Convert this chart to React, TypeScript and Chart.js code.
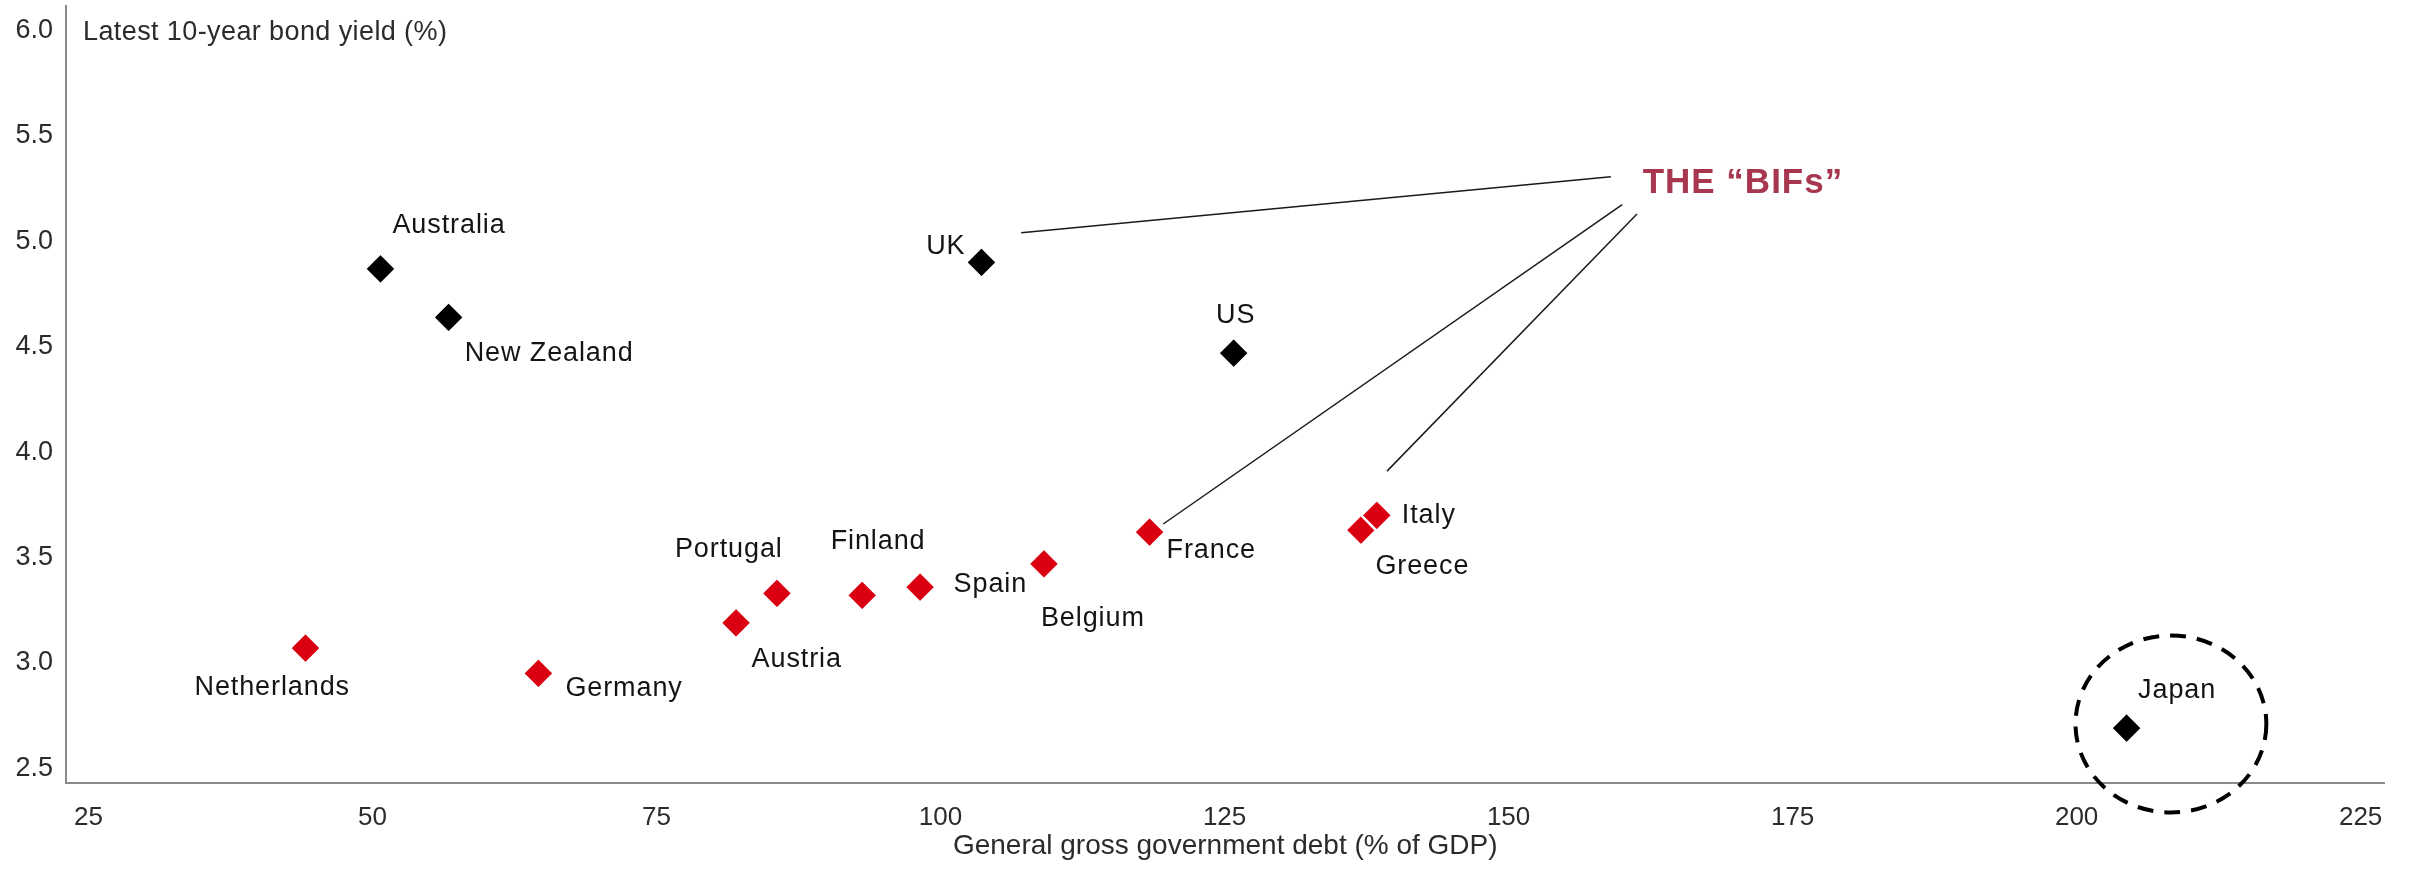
import React, { useEffect, useRef } from 'react';
import { Chart, registerables } from 'chart.js';

Chart.register(...registerables);

// ---- data ----
const euroCountries = ['Netherlands', 'Germany', 'Austria', 'Portugal', 'Finland', 'Spain', 'Belgium', 'France', 'Greece', 'Italy'];
const euroDebt = [44.1, 64.6, 82.0, 85.6, 93.1, 98.2, 109.1, 118.4, 137.0, 138.4];
const euroYield = [3.07, 2.95, 3.19, 3.33, 3.32, 3.36, 3.47, 3.62, 3.63, 3.70];

const otherCountries = ['Australia', 'New Zealand', 'UK', 'US', 'Japan'];
const otherDebt = [50.7, 56.7, 103.6, 125.8, 204.4];
const otherYield = [4.87, 4.64, 4.90, 4.47, 2.69];

const xTicks = [25, 50, 75, 100, 125, 150, 175, 200, 225];
const yTicks = [2.5, 3.0, 3.5, 4.0, 4.5, 5.0, 5.5, 6.0];

const xTitle = 'General gross government debt (% of GDP)';
const yTitle = 'Latest 10-year bond yield (%)';
const calloutText = 'THE \u201CBIFs\u201D';

// callout anchor and leader lines, in [debt, yield] units
const calloutAnchor = [161.8, 5.228];
const calloutLines = [
  [[107.1, 5.041], [159.0, 5.307]],
  [[160.0, 5.174], [119.6, 3.659]],
  [[161.3, 5.13], [139.3, 3.91]],
];

// dashed ring around Japan: centre and half-extent in [debt, yield] units
const ringCenter = [208.3, 2.71];
const ringHalf = [8.4, 0.42];

// ---- styling ----
const FONT = '"Liberation Sans", Arial, sans-serif';
const RED = '#DB0011';
const BLACK = '#000000';
const CALLOUT = '#A6374F';
const AXIS = '#8a8a8a';
const TEXT = '#2b2b2b';
const LABEL = '#141414';

// label offsets from the marker centre: [dx, dy to baseline, alignment]
const labelPlacement: Record<string, [number, number, CanvasTextAlign]> = {
  Australia: [12, -36, 'left'],
  'New Zealand': [16, 44, 'left'],
  UK: [-16, -8, 'right'],
  US: [2, -30, 'center'],
  Japan: [11.5, -30, 'left'],
  Netherlands: [-111, 47, 'left'],
  Germany: [27, 23, 'left'],
  Austria: [15.5, 44, 'left'],
  Portugal: [-102, -36, 'left'],
  Finland: [-31.5, -46.5, 'left'],
  Spain: [33.5, 4.5, 'left'],
  Belgium: [-3, 62, 'left'],
  France: [17, 26, 'left'],
  Greece: [14.5, 44, 'left'],
  Italy: [25, 8, 'left'],
};

const datasetNames = [euroCountries, otherCountries];

const annotationPlugin = {
  id: 'bondAnnotations',
  afterDraw(chart: any) {
    const { ctx, chartArea } = chart;
    const x = chart.scales.x;
    const y = chart.scales.y;
    ctx.save();

    // y-axis caption inside the plot, level with the top tick
    ctx.font = `27px ${FONT}`;
    ctx.fillStyle = TEXT;
    ctx.textAlign = 'left';
    ctx.textBaseline = 'alphabetic';
    (ctx as any).letterSpacing = '0.4px';
    ctx.fillText(yTitle, chartArea.left + 17, y.getPixelForValue(yTicks[yTicks.length - 1]) + 9);

    // country labels next to each marker
    ctx.font = `27px ${FONT}`;
    ctx.fillStyle = LABEL;
    (ctx as any).letterSpacing = '0.9px';
    datasetNames.forEach((names, di) => {
      const meta = chart.getDatasetMeta(di);
      meta.data.forEach((pt: any, i: number) => {
        const name = names[i];
        const place = labelPlacement[name];
        if (!place) return;
        ctx.textAlign = place[2];
        ctx.fillText(name, pt.x + place[0], pt.y + place[1]);
      });
    });

    // leader lines for the callout
    ctx.strokeStyle = '#1a1a1a';
    ctx.lineWidth = 1.5;
    calloutLines.forEach(([a, b]) => {
      ctx.beginPath();
      ctx.moveTo(x.getPixelForValue(a[0]), y.getPixelForValue(a[1]));
      ctx.lineTo(x.getPixelForValue(b[0]), y.getPixelForValue(b[1]));
      ctx.stroke();
    });

    // callout heading
    ctx.font = `bold 35px ${FONT}`;
    ctx.fillStyle = CALLOUT;
    ctx.textAlign = 'left';
    (ctx as any).letterSpacing = '1px';
    ctx.fillText(calloutText, x.getPixelForValue(calloutAnchor[0]), y.getPixelForValue(calloutAnchor[1]));
    (ctx as any).letterSpacing = '0px';

    // dashed ring around Japan
    const cx = x.getPixelForValue(ringCenter[0]);
    const cy = y.getPixelForValue(ringCenter[1]);
    const rx = x.getPixelForValue(ringCenter[0] + ringHalf[0]) - cx;
    const ry = cy - y.getPixelForValue(ringCenter[1] + ringHalf[1]);
    ctx.strokeStyle = BLACK;
    ctx.lineWidth = 4;
    ctx.setLineDash([16, 11]);
    ctx.beginPath();
    ctx.ellipse(cx, cy, rx, ry, 0, 0, Math.PI * 2);
    ctx.stroke();
    ctx.setLineDash([]);

    ctx.restore();
  },
};

const markerStyle = {
  pointStyle: 'rectRot' as const,
  pointRadius: 15.5,
  pointBorderColor: '#ffffff',
  pointBorderWidth: 2.5,
};

export default function App() {
  const ref = useRef<HTMLCanvasElement>(null);

  useEffect(() => {
    const canvas = ref.current;
    if (!canvas) return;
    Chart.defaults.font.family = FONT;

    const chart = new Chart(canvas, {
      type: 'scatter',
      data: {
        datasets: [
          {
            label: 'Euro area',
            data: euroDebt.map((d, i) => ({ x: d, y: euroYield[i] })),
            backgroundColor: RED,
            ...markerStyle,
          },
          {
            label: 'Other',
            data: otherDebt.map((d, i) => ({ x: d, y: otherYield[i] })),
            backgroundColor: BLACK,
            ...markerStyle,
          },
        ],
      },
      options: {
        responsive: false,
        animation: false,
        events: [],
        layout: { autoPadding: false, padding: { top: 6, right: 30.5, left: 0, bottom: 0 } },
        plugins: {
          legend: { display: false },
          tooltip: { enabled: false },
        },
        scales: {
          x: {
            type: 'linear',
            min: 23.02,
            max: 227.1,
            afterBuildTicks: (s: any) => {
              s.ticks = xTicks.map((v) => ({ value: v }));
            },
            afterFit: (s: any) => {
              s.height = 91;
              s.paddingLeft = 0;
              s.paddingRight = 0;
            },
            grid: { display: false, drawTicks: false },
            border: { display: true, color: AXIS, width: 2 },
            ticks: {
              font: { size: 26 },
              color: TEXT,
              padding: 19,
              maxRotation: 0,
              autoSkip: false,
            },
            title: {
              display: true,
              text: xTitle,
              font: { size: 28 },
              color: TEXT,
              padding: { top: 0, bottom: 11 },
            },
          },
          y: {
            type: 'linear',
            min: 2.43,
            max: 6.117,
            afterBuildTicks: (s: any) => {
              s.ticks = yTicks.map((v) => ({ value: v }));
            },
            afterFit: (s: any) => {
              s.width = 66;
              s.paddingTop = 0;
              s.paddingBottom = 0;
            },
            grid: { display: false, drawTicks: false },
            border: { display: true, color: AXIS, width: 2 },
            ticks: {
              font: { size: 27 },
              color: TEXT,
              padding: 13,
              callback: (v: any) => Number(v).toFixed(1),
            },
          },
        },
      },
      plugins: [annotationPlugin],
    });

    return () => chart.destroy();
  }, []);

  return (
    <canvas
      ref={ref}
      width={2415}
      height={874}
      style={{ position: 'fixed', left: 0, top: 0, display: 'block', background: '#fff' }}
    />
  );
}
